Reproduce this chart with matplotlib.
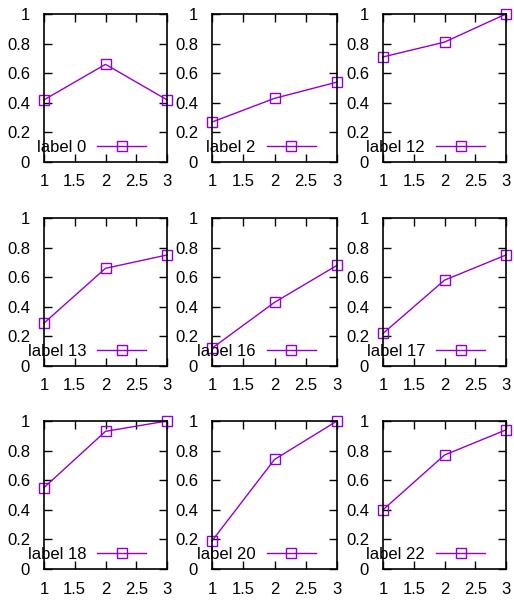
import matplotlib
matplotlib.use("Agg")
import matplotlib.pyplot as plt

plt.rcParams['font.family'] = ['Liberation Sans', 'DejaVu Sans']
plt.rcParams['font.size'] = 12

# x positions shared by every panel
x_vals = [1, 2, 3]

# panel labels and their y values, row by row
labels = ["label 0", "label 2", "label 12",
          "label 13", "label 16", "label 17",
          "label 18", "label 20", "label 22"]
y_label0 = [0.42, 0.66, 0.42]
y_label2 = [0.27, 0.43, 0.54]
y_label12 = [0.71, 0.81, 1.0]
y_label13 = [0.29, 0.66, 0.75]
y_label16 = [0.12, 0.43, 0.68]
y_label17 = [0.22, 0.58, 0.75]
y_label18 = [0.55, 0.93, 1.0]
y_label20 = [0.19, 0.74, 1.0]
y_label22 = [0.40, 0.77, 0.94]
series = [y_label0, y_label2, y_label12,
          y_label13, y_label16, y_label17,
          y_label18, y_label20, y_label22]

x_ticks = [1, 1.5, 2, 2.5, 3]
x_tick_labels = ["1", "1.5", "2", "2.5", "3"]
y_ticks = [0, 0.2, 0.4, 0.6, 0.8, 1]
y_tick_labels = ["0", "0.2", "0.4", "0.6", "0.8", "1"]

W, H = 514, 600
fig = plt.figure(figsize=(W / 100, H / 100), dpi=100)

# panel edges in pixels
lefts = [44, 212, 383]
rights = [167, 337, 506]
tops = [14, 218, 421]
bottoms = [162, 366, 569]

color = "#9400d3"

for idx, (lab, ys) in enumerate(zip(labels, series)):
    r, c = divmod(idx, 3)
    ax = fig.add_axes([lefts[c] / W, 1 - bottoms[r] / H,
                       (rights[c] - lefts[c]) / W, (bottoms[r] - tops[r]) / H])
    ax.plot(x_vals, ys, color=color, lw=1, marker="s", ms=6.5,
            mfc="none", mec=color, mew=1, label=lab, clip_on=False)
    ax.set_xlim(1, 3)
    ax.set_ylim(0, 1)
    ax.set_xticks(x_ticks)
    ax.set_xticklabels(x_tick_labels)
    ax.set_yticks(y_ticks)
    ax.set_yticklabels(y_tick_labels)
    ax.tick_params(direction="in", length=6, width=1, top=True, right=True,
                   labelsize=12)
    ax.tick_params(axis="y", pad=10)
    ax.tick_params(axis="x", pad=9)
    for s in ax.spines.values():
        s.set_linewidth(1.2)
    ax.legend(loc="center right", bbox_to_anchor=(0.83, 0.10),
              frameon=False, borderpad=0, borderaxespad=0,
              markerfirst=False, handlelength=2.95, handletextpad=0.65,
              fontsize=12)

fig.savefig("out.png", dpi=100)
